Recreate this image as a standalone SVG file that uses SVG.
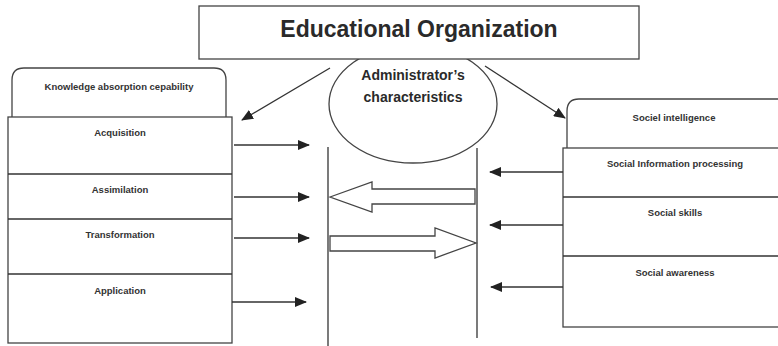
<svg xmlns="http://www.w3.org/2000/svg" width="778" height="346" viewBox="0 0 778 346">
<style>
.box{fill:#fff;stroke:#444;stroke-width:1.3}
.ln{fill:none;stroke:#333;stroke-width:1.3}
.hol{fill:#fff;stroke:#444;stroke-width:1.3}
.t{font-family:"Liberation Sans",Arial,sans-serif;font-weight:bold;fill:#2a2a2a;text-anchor:middle}
.s{font-size:9.5px;fill:#333}
</style>
<defs>
<marker id="ah" viewBox="0 0 12 10" refX="11" refY="5" markerWidth="12" markerHeight="10" markerUnits="userSpaceOnUse" orient="auto">
<path d="M0,0 L12,5 L0,10 Z" fill="#222"/>
</marker>
</defs>
<rect width="778" height="346" fill="#fff"/>
<g id="admin">
<ellipse class="box" cx="413" cy="104" rx="84" ry="59"/>
<text class="t" x="413" y="80" font-size="14">Administrator’s</text>
<text class="t" x="413" y="102" font-size="14">characteristics</text>
</g>
<g id="org">
<rect class="box" x="199" y="6" width="440" height="53"/>
<text class="t" x="419" y="37" font-size="23" fill="#1a1a1a">Educational Organization</text>
</g>
<g id="kac">
<path class="box" d="M12,117 V80 Q12,68 24,68 H214 Q226,68 226,80 V117"/>
<text class="t s" x="119" y="90">Knowledge absorption cepability</text>
<rect class="box" x="8" y="117" width="224" height="226"/>
<line class="ln" x1="8" y1="174" x2="232" y2="174"/>
<line class="ln" x1="8" y1="219" x2="232" y2="219"/>
<line class="ln" x1="8" y1="274" x2="232" y2="274"/>
<text class="t s" x="120" y="136">Acquisition</text>
<text class="t s" x="120" y="193">Assimilation</text>
<text class="t s" x="120" y="238">Transformation</text>
<text class="t s" x="120" y="294">Application</text>
</g>
<g id="si">
<path class="box" d="M567,148 V111 Q567,99 579,99 H790"/>
<text class="t s" x="674" y="121">Sociel intelligence</text>
<rect class="box" x="563" y="148" width="230" height="179"/>
<line class="ln" x1="563" y1="197" x2="793" y2="197"/>
<line class="ln" x1="563" y1="256" x2="793" y2="256"/>
<text class="t s" x="675" y="167">Social Information processing</text>
<text class="t s" x="675" y="216">Social skills</text>
<text class="t s" x="675" y="276">Social awareness</text>
</g>
<g id="connectors">
<line class="ln" x1="330" y1="68" x2="242" y2="120" marker-end="url(#ah)"/>
<line class="ln" x1="485" y1="66" x2="565" y2="118" marker-end="url(#ah)"/>
<line class="ln" x1="328" y1="147" x2="328" y2="346"/>
<line class="ln" x1="477" y1="148" x2="477" y2="338"/>
<line class="ln" x1="234" y1="145" x2="309" y2="145" marker-end="url(#ah)"/>
<line class="ln" x1="234" y1="197" x2="309" y2="197" marker-end="url(#ah)"/>
<line class="ln" x1="234" y1="238" x2="309" y2="238" marker-end="url(#ah)"/>
<line class="ln" x1="232" y1="302" x2="306" y2="302" marker-end="url(#ah)"/>
<line class="ln" x1="563" y1="172" x2="490" y2="172" marker-end="url(#ah)"/>
<line class="ln" x1="563" y1="225" x2="490" y2="225" marker-end="url(#ah)"/>
<line class="ln" x1="563" y1="287" x2="491" y2="287" marker-end="url(#ah)"/>
<polygon class="hol" points="330,197 372,182 372,189 475,189 475,204 372,204 372,212"/>
<polygon class="hol" points="330,236 435,236 435,228 476,243 435,258 435,251 330,251"/>
</g>
</svg>
